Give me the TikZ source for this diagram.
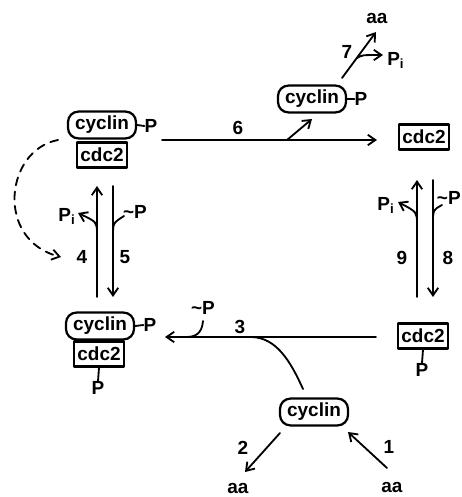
\documentclass[tikz,border=0pt]{standalone}
\usepackage{fontspec}
\setmainfont{Liberation Sans}
\usetikzlibrary{arrows.meta, positioning}

\begin{document}
\begin{tikzpicture}[x=0.25mm, y=-0.25mm, line cap=round, line join=round,
  >={Straight Barb[length=1.9mm, width=2.6mm]},
  font=\fontsize{13.5}{16}\selectfont\bfseries,
  cycbox/.style={draw, line width=1.6pt, rounded corners=2.6mm, inner sep=0pt,
    minimum width=17mm, minimum height=6.7mm},
  cdcbox/.style={draw, line width=1.6pt, inner sep=0pt,
    minimum width=12.6mm, minimum height=6.3mm},
  lbl/.style={inner sep=0pt},
  bond/.style={line width=1.3pt},
  rxn/.style={->, line width=1.3pt},
  feed/.style={->, line width=1.3pt, dash pattern=on 2mm off 1.6mm}]

  \useasboundingbox (0,0) rectangle (462,497);

  %% ---- complexes and free species ----
  \node[cycbox] (cycTL) at (102,125) {cyclin};
  \node[cdcbox] (cdcTL) at (102,155) {cdc2};
  \node[lbl]    (pTL)   at (151,126) {P};
  \draw[bond] (cycTL.east) -- (pTL.west);

  \node[cycbox] (cycTM) at (312,99) {cyclin};
  \node[lbl]    (pTM)   at (361,99) {P};
  \draw[bond] (cycTM.east) -- (pTM.west);

  \node[cdcbox] (cdcTR) at (424,137) {cdc2};

  \node[cycbox] (cycBL) at (100,326) {cyclin};
  \node[cdcbox] (cdcBL) at (99,354) {cdc2};
  \node[lbl]    (pBL)   at (150,325) {P};
  \node[lbl]    (pBLb)  at (98,388) {P};
  \draw[bond] (cycBL.east) -- (pBL.west);
  \draw[bond] (cdcBL.south) -- (pBLb.north);

  \node[cdcbox] (cdcBR) at (423,336) {cdc2};
  \node[lbl]    (pBR)   at (422,370) {P};
  \draw[bond] (cdcBR.south) -- (pBR.north);

  \node[cycbox] (cycB) at (314,412) {cyclin};

  %% ---- end points of the reaction arrows ----
  \coordinate (r6s) at (162,140);  \coordinate (r6e) at (377,140);
  \coordinate (r6b) at (287,140);  \coordinate (r6t) at (312,119);
  \coordinate (r7s) at (342,78);   \coordinate (r7e) at (376,32);
  \coordinate (r7b) at (357,58);   \coordinate (r7t) at (383,55);
  \coordinate (r4s) at (97,297);   \coordinate (r4e) at (97,186);
  \coordinate (r5s) at (113,186);  \coordinate (r5e) at (113,297);
  \coordinate (r9s) at (417,297);  \coordinate (r9e) at (417,180);
  \coordinate (r8s) at (433,180);  \coordinate (r8e) at (433,297);
  \coordinate (r3s) at (376,337);  \coordinate (r3e) at (165,337);
  \coordinate (r2s) at (280,433);  \coordinate (r2e) at (245,472);
  \coordinate (r1s) at (387,468);  \coordinate (r1e) at (348,432);

  %% ---- reaction 6 and 7 ----
  \draw[rxn] (r6s) -- (r6e);
  \draw[rxn] (r6b) -- (r6t);
  \node[lbl] (n6) at (238,128) {6};
  \draw[rxn] (r7s) -- (r7e);
  \draw[rxn] (r7b) .. controls (362,55) .. (r7t);
  \node[lbl] (n7)   at (347,52) {7};
  \node[lbl] (aa7)  at (377,18) {aa};
  \node[lbl, anchor=west] (pi7) at (387,60) {P\textsubscript{i}};

  %% ---- reactions 4 and 5 ----
  \draw[rxn] (r4s) -- (r4e);
  \draw[rxn] (r5s) -- (r5e);
  \draw[rxn] (97,234) .. controls (97,222) .. (78,213);
  \draw[line width=1.3pt] (124,216) .. controls (113,223) .. (113,236);
  \node[lbl] (pi4) at (67,216) {P\textsubscript{i}};
  \node[lbl] (tp5) at (135,212) {\textasciitilde P};
  \node[lbl] (n4) at (82,257) {4};
  \node[lbl] (n5) at (125,257) {5};

  %% ---- reactions 8 and 9 ----
  \draw[rxn] (r9s) -- (r9e);
  \draw[rxn] (r8s) -- (r8e);
  \draw[rxn] (417,224) .. controls (417,212) .. (398,202);
  \draw[line width=1.3pt] (442,205) .. controls (433,210) .. (433,222);
  \node[lbl, anchor=east] (tp8) at (461,198) {\textasciitilde P};
  \node[lbl] (pi9) at (386,205) {P\textsubscript{i}};
  \node[lbl] (n9) at (402,258) {9};
  \node[lbl] (n8) at (448,258) {8};

  %% ---- reaction 3 ----
  \draw[rxn] (r3s) -- (r3e);
  \draw[line width=1.3pt] (203,321) .. controls (202,334) and (195,337) .. (186,337);
  \draw[line width=1.3pt] (303,389) .. controls (290,360) and (276,338) .. (252,337);
  \node[lbl] (tp3) at (203,308) {\textasciitilde P};
  \node[lbl] (n3)  at (240,327) {3};

  %% ---- reactions 1 and 2 ----
  \draw[rxn] (r2s) -- (r2e);
  \node[lbl] (n2)  at (243,448) {2};
  \node[lbl] (aa2) at (238,488) {aa};
  \draw[rxn] (r1s) -- (r1e);
  \node[lbl] (n1)  at (389,447) {1};
  \node[lbl] (aa1) at (392,487) {aa};

  %% ---- dashed feedback ----
  \draw[feed] (58,140) .. controls (5,150) and (-5,240) .. (61,257);

\end{tikzpicture}
\end{document}
